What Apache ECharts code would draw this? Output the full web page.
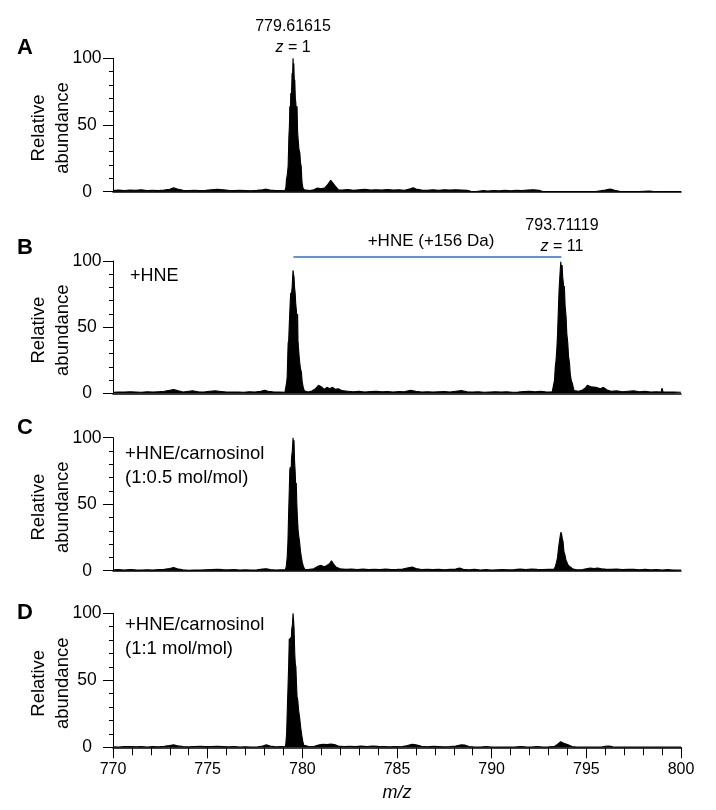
<!DOCTYPE html>
<html>
<head>
<meta charset="utf-8">
<script src="https://cdn.jsdelivr.net/npm/echarts@6/dist/echarts.min.js"></script>
<style>
html,body{margin:0;padding:0;background:#fff;}
#chart{width:716px;height:810px;}
</style>
</head>
<body>
<div id="chart"></div>
<script>
// ---------- DATA (m/z, relative abundance) ----------
const xTickLabels = [770, 775, 780, 785, 790, 795, 800];
const yTickLabels = [0, 50, 100];
const panelLetters = ['A', 'B', 'C', 'D'];
const yAxisTitle = 'Relative\nabundance';

const panelA = [
[770.0,0.8],[770.3,1.2],[770.6,0.9],[770.9,1.3],[771.2,1.0],[771.5,1.4],[771.8,0.9],[772.1,1.1],[772.4,0.8],[772.7,1.2],[773.0,1.8],[773.2,3.0],[773.4,2.0],[773.7,1.0],[774.0,0.9],[774.3,1.1],[774.6,0.8],[774.9,1.0],[775.2,1.5],[775.5,1.8],[775.8,1.4],[776.1,1.0],[776.4,0.8],[776.7,1.1],[777.0,0.9],[777.3,0.7],[777.6,1.0],[777.9,1.5],[778.1,1.9],[778.3,1.2],[778.6,0.8],[778.9,0.9],[779.07,0.6],
[779.13,3],[779.16,9],[779.2,12],[779.25,19],[779.29,41],[779.32,50],[779.34,64],[779.37,60],[779.39,74],[779.42,70],[779.46,89],[779.48,84],[779.51,100],[779.53,92],[779.55,96],[779.58,80],[779.60,84],[779.63,70],[779.66,66],[779.68,58],[779.72,64],[779.75,45],[779.78,39],[779.82,32],[779.87,29],[779.90,22],[779.94,19],[779.97,10],[779.99,6],[780.03,3],[780.1,1.5],
[780.2,1.2],[780.4,0.8],[780.6,1.5],[780.8,2.8],[781.0,2.2],[781.2,3.0],[781.35,5.5],[781.5,8.5],[781.6,7.5],[781.75,4],[781.9,1.5],[782.1,1.2],[782.4,1.6],[782.7,1.0],[783.0,1.4],[783.3,1.8],[783.6,1.2],[783.9,1.5],[784.2,1.3],[784.5,1.6],[784.8,1.2],[785.1,1.5],[785.4,1.1],[785.7,2.2],[785.86,3.0],[786.0,2.0],[786.3,1.2],[786.6,1.0],[786.9,1.5],[787.2,1.1],[787.5,1.4],[787.8,1.2],[788.1,1.5],[788.4,1.3],[788.7,1.0],[788.9,0.3],[789.2,0.2],[789.55,0.8],[789.8,0.5],[790.1,0.9],[790.4,0.6],[790.7,1.0],[791.0,0.7],[791.3,1.1],[791.6,0.9],[791.9,1.2],[792.2,1.5],[792.5,1.0],[792.7,0.2],[793.0,0.1],[793.5,0.1],[794.0,0.1],[794.5,0.1],[795.0,0.1],[795.5,0.2],[796.0,1.2],[796.26,2.0],[796.5,1.0],[796.8,0.2],[797.2,0.1],[797.8,0.1],[798.3,0.5],[798.4,1.2],[798.5,0.3],[799.0,0.1],[799.5,0.1],[800.0,0.1]
];

const panelB = [
[770.0,0.8],[770.3,1.0],[770.6,0.9],[770.9,1.2],[771.2,1.0],[771.5,0.8],[771.8,1.1],[772.1,0.9],[772.4,1.2],[772.7,1.5],[773.0,2.2],[773.2,2.8],[773.4,2.0],[773.7,1.0],[774.0,1.6],[774.2,1.9],[774.5,1.2],[774.8,1.0],[775.1,1.5],[775.4,1.8],[775.7,1.4],[776.0,1.0],[776.3,0.9],[776.6,1.0],[776.9,0.8],[777.2,1.1],[777.5,0.9],[777.8,1.6],[778.0,2.2],[778.2,1.6],[778.5,0.9],[778.8,1.0],[779.08,0.8],
[779.13,2],[779.17,8],[779.2,12.5],[779.23,28],[779.25,38],[779.28,40],[779.31,52],[779.34,53],[779.37,72],[779.39,76],[779.42,74],[779.46,80],[779.49,88],[779.51,93],[779.53,90],[779.56,88],[779.59,80],[779.62,76],[779.65,68],[779.69,62],[779.72,50],[779.75,60],[779.77,40],[779.8,34],[779.83,28],[779.87,22],[779.91,18],[779.95,16],[779.99,9],[780.04,5],[780.1,2],[780.18,1],
[780.3,1.0],[780.5,1.8],[780.7,3.5],[780.85,6],[780.92,7.5],[781.0,5],[781.15,3],[781.3,4.5],[781.45,3.5],[781.6,4.5],[781.75,3],[781.9,3.5],[782.1,2],[782.4,1.6],[782.7,1.2],[783.0,1.5],[783.3,1.0],[783.6,1.3],[783.9,1.6],[784.2,1.1],[784.5,1.4],[784.8,1.0],[785.1,1.3],[785.4,1.1],[785.7,2.2],[786.0,1.5],[786.3,1.0],[786.6,1.2],[786.9,0.9],[787.2,1.1],[787.5,1.3],[787.8,1.0],[788.1,1.6],[788.4,2.0],[788.7,1.2],[789.0,0.9],[789.3,1.1],[789.6,0.8],[789.9,1.0],[790.2,1.2],[790.5,0.9],[790.8,1.1],[791.1,0.8],[791.4,1.0],[791.7,1.3],[792.0,1.6],[792.3,1.2],[792.6,1.5],[792.9,1.0],[793.2,1.2],
[793.26,2],[793.32,10],[793.36,20],[793.40,25],[793.44,33],[793.48,45],[793.52,62],[793.56,78],[793.60,88],[793.63,95],[793.65,99.5],[793.68,94],[793.72,97],[793.75,88],[793.79,83],[793.82,75],[793.84,81],[793.88,66],[793.93,58],[793.97,45],[794.02,38],[794.06,28],[794.11,23],[794.15,15],[794.2,10],[794.27,7],[794.35,2],[794.45,1],
[794.6,1.5],[794.8,2.5],[794.95,4],[795.05,6],[795.15,7.5],[795.25,5],[795.35,6.5],[795.5,4.5],[795.6,5.5],[795.75,3.5],[795.9,4.5],[796.1,2.5],[796.3,1.5],[796.6,1.8],[796.9,1.2],[797.2,1.5],[797.5,1.8],[797.8,1.2],[798.1,1.6],[798.4,1.0],[798.7,1.2],[798.95,1.0],[799.0,4],[799.05,1.0],[799.3,0.9],[799.6,1.0],[800.0,0.8]
];

const panelC = [
[770.0,0.6],[770.3,0.8],[770.6,0.5],[770.9,0.9],[771.2,0.6],[771.5,0.4],[771.8,0.7],[772.1,0.5],[772.4,0.8],[772.7,1.0],[773.0,1.6],[773.2,2.4],[773.4,1.4],[773.7,0.6],[774.0,0.3],[774.3,0.5],[774.6,0.4],[774.9,0.7],[775.2,0.9],[775.5,1.1],[775.8,0.8],[776.1,0.6],[776.4,0.9],[776.7,0.5],[777.0,0.7],[777.3,0.4],[777.6,0.6],[777.9,1.2],[778.1,1.5],[778.3,0.8],[778.6,0.5],[778.9,0.7],[779.1,0.6],
[779.15,3],[779.2,10],[779.24,22],[779.28,45],[779.31,60],[779.34,76],[779.37,78],[779.40,70],[779.43,85],[779.47,90],[779.51,100],[779.53,94],[779.56,98],[779.59,82],[779.62,75],[779.65,64],[779.68,66],[779.71,50],[779.74,40],[779.78,30],[779.82,25],[779.86,21],[779.90,15],[779.95,10],[780.0,6],[780.06,3],[780.13,1],
[780.3,0.8],[780.6,1.5],[780.85,3.5],[781.0,4],[781.15,3],[781.3,4],[781.45,5.5],[781.54,7.5],[781.65,5],[781.8,2.5],[782.0,1.5],[782.3,1.0],[782.6,1.3],[782.9,0.9],[783.2,1.2],[783.5,0.8],[783.8,1.1],[784.1,0.9],[784.4,1.2],[784.7,0.8],[785.0,1.0],[785.3,1.3],[785.6,2.2],[785.8,2.8],[786.0,1.6],[786.3,0.9],[786.6,1.1],[786.9,0.8],[787.2,1.0],[787.5,0.7],[787.8,1.0],[788.1,1.3],[788.3,2.0],[788.5,1.0],[788.8,0.6],[789.1,1.0],[789.4,0.5],[789.7,0.8],[790.0,0.4],[790.3,0.7],[790.6,0.9],[790.9,0.6],[791.2,0.8],[791.5,1.2],[791.8,0.9],[792.1,1.3],[792.4,1.0],[792.7,0.8],[793.0,1.0],[793.3,1.2],
[793.36,3],[793.42,6],[793.48,10],[793.53,17],[793.58,22],[793.62,26],[793.66,29],[793.70,27],[793.73,24],[793.77,22],[793.82,14],[793.87,12],[793.92,8],[793.98,7],[794.05,4],[794.15,3],[794.3,1.2],
[794.5,0.6],[794.8,0.9],[795.0,1.5],[795.2,2.0],[795.4,1.6],[795.6,2.0],[795.8,1.5],[796.0,1.2],[796.3,1.0],[796.6,1.3],[796.9,0.8],[797.2,1.1],[797.5,1.0],[797.8,0.7],[798.1,1.0],[798.4,0.6],[798.7,0.9],[799.0,0.5],[799.3,0.8],[799.6,0.4],[800.0,0.5]
];

const panelD = [
[770.0,0.3],[770.3,0.2],[770.6,0.5],[770.9,0.6],[771.2,0.4],[771.5,0.6],[771.8,0.2],[772.1,0.5],[772.4,0.3],[772.7,0.8],[773.0,1.4],[773.2,1.8],[773.4,1.2],[773.7,0.5],[774.0,0.3],[774.3,0.6],[774.6,0.8],[774.9,0.5],[775.2,0.6],[775.5,0.7],[775.8,0.5],[776.1,0.3],[776.4,0.6],[776.7,0.2],[777.0,0.4],[777.3,0.1],[777.6,0.2],[777.9,1.0],[778.1,1.8],[778.3,1.0],[778.6,0.3],[778.9,0.5],[779.1,0.4],
[779.13,3],[779.17,10],[779.21,30],[779.25,48],[779.28,62],[779.31,81],[779.34,78],[779.37,82],[779.40,75],[779.44,88],[779.48,92],[779.51,100],[779.53,96],[779.56,90],[779.60,70],[779.63,62],[779.66,60],[779.69,48],[779.72,38],[779.76,35],[779.80,28],[779.86,22],[779.92,14],[779.98,8],[780.03,4],[780.08,1.5],[780.15,0.5],
[780.3,0.8],[780.6,0.6],[780.9,1.8],[781.1,2.2],[781.3,2.0],[781.5,2.4],[781.7,2.0],[781.9,1.0],[782.2,0.6],[782.5,0.8],[782.8,0.5],[783.1,0.9],[783.4,0.6],[783.7,1.0],[784.0,0.7],[784.3,0.5],[784.6,0.3],[784.9,0.6],[785.2,0.4],[785.5,1.2],[785.8,2.2],[786.0,1.8],[786.3,0.8],[786.6,0.4],[786.9,0.7],[787.2,0.5],[787.5,0.3],[787.8,0.6],[788.1,1.0],[788.4,1.8],[788.6,1.6],[788.8,0.6],[789.1,0.2],[789.4,0.1],[789.7,0.6],[790.0,0.2],[790.3,0.1],[790.6,0.2],[790.9,0.1],[791.2,0.2],[791.5,0.5],[791.8,0.3],[792.1,0.2],[792.4,0.6],[792.7,0.2],[793.0,0.3],[793.3,0.5],
[793.4,1.5],[793.5,2.5],[793.58,3.5],[793.65,4.2],[793.72,3.8],[793.8,3.0],[793.9,3.2],[794.0,2.0],[794.1,1.5],[794.25,0.5],
[794.5,0.1],[795.0,0.1],[795.5,0.1],[795.8,0.2],[796.0,0.8],[796.2,0.9],[796.4,0.3],[796.7,0.1],[797.0,0.1],[797.5,0.1],[798.0,0.1],[798.5,0.1],[799.0,0.1],[799.5,0.1],[800.0,0.1]
];

const hneShift = { from: 779.53, to: 793.68, level: 103.3, label: '+HNE (+156 Da)' };
const peakLabelA = { mz: '779.61615', z: '1' };
const peakLabelB = { mz: '793.71119', z: '11' };

// ---------- LAYOUT ----------
const FONT = '"Liberation Sans", Arial, Helvetica, sans-serif';
const panels = [panelA, panelB, panelC, panelD];
const grids = [
  { left: 113, right: 35, top: 58.3, height: 133.4 },
  { left: 113, right: 35, top: 261, height: 132.3 },
  { left: 113, right: 35, top: 437.7, height: 133 },
  { left: 113, right: 35, top: 613.3, height: 134 }
];

const xAxes = grids.map((g, i) => {
  const last = i === 3;
  return {
    type: 'value', gridIndex: i, min: 770, max: 800, interval: 5,
    axisLine: { show: true, onZero: false, lineStyle: { color: '#000', width: 1.5 } },
    axisTick: { show: last, length: 11, lineStyle: { color: '#000', width: 1 } },
    minorTick: { show: last, splitNumber: 5, length: 8, lineStyle: { color: '#000', width: 1 } },
    axisLabel: {
      show: last, margin: 14, fontSize: 16, color: '#000', fontFamily: FONT,
      formatter: v => (xTickLabels.indexOf(v) >= 0 ? String(v) : '')
    },
    splitLine: { show: false },
    name: last ? 'm/z' : '', nameLocation: 'middle', nameGap: 37,
    nameTextStyle: { fontSize: 18, fontStyle: 'italic', color: '#000', fontFamily: FONT }
  };
});

const yAxes = grids.map((g, i) => ({
  type: 'value', gridIndex: i, min: 0, max: 100, interval: 50,
  axisLine: { show: true, lineStyle: { color: '#000', width: 1 } },
  axisTick: { show: true, length: 10, lineStyle: { color: '#000', width: 1 } },
  minorTick: { show: true, splitNumber: 5, length: 4, lineStyle: { color: '#000', width: 1 } },
  axisLabel: {
    margin: 26, align: 'center', fontSize: 17.5, color: '#000', fontFamily: FONT,
    formatter: v => (yTickLabels.indexOf(v) >= 0 ? String(v) : '')
  },
  splitLine: { show: false }
}));

const series = panels.map((d, i) => ({
  type: 'line', xAxisIndex: i, yAxisIndex: i, data: d,
  symbol: 'none', silent: true, animation: false,
  lineStyle: { color: '#000', width: 1.1 },
  areaStyle: { color: '#000', opacity: 1 },
  z: 1
}));

function txt(x, y, text, opts) {
  return {
    type: 'text', x: x, y: y, silent: true,
    style: Object.assign({ text: text, fill: '#000', font: '16px ' + FONT, textAlign: 'center', textVerticalAlign: 'middle' }, opts || {})
  };
}

const letterY = [48, 248, 428, 613];
const staticGraphics = [];
panelLetters.forEach((L, i) => staticGraphics.push(txt(25, letterY[i], L, { font: 'bold 22px ' + FONT })));
staticGraphics.push(txt(293, 27, peakLabelA.mz, { font: '16px ' + FONT }));
staticGraphics.push(txt(293, 47.5, '{i|z} = ' + peakLabelA.z, { font: '16px ' + FONT, rich: { i: { fontStyle: 'italic', fontSize: 16, fontFamily: FONT } } }));
staticGraphics.push(txt(562, 226, peakLabelB.mz, { font: '16px ' + FONT }));
staticGraphics.push(txt(562, 246.5, '{i|z} = ' + peakLabelB.z, { font: '16px ' + FONT, rich: { i: { fontStyle: 'italic', fontSize: 16, fontFamily: FONT } } }));
staticGraphics.push(txt(431, 241, hneShift.label, { font: '17px ' + FONT }));
staticGraphics.push(txt(130, 276, '+HNE', { font: '18px ' + FONT, textAlign: 'left' }));
staticGraphics.push(txt(125, 454, '+HNE/carnosinol', { font: '18.5px ' + FONT, textAlign: 'left' }));
staticGraphics.push(txt(125, 478, '(1:0.5 mol/mol)', { font: '18.5px ' + FONT, textAlign: 'left' }));
staticGraphics.push(txt(125, 625, '+HNE/carnosinol', { font: '18.5px ' + FONT, textAlign: 'left' }));
staticGraphics.push(txt(125, 648.5, '(1:1 mol/mol)', { font: '18.5px ' + FONT, textAlign: 'left' }));

const chart = echarts.init(document.getElementById('chart'), null, { renderer: 'canvas' });
chart.setOption({
  animation: false,
  backgroundColor: '#fff',
  grid: grids,
  xAxis: xAxes,
  yAxis: yAxes,
  series: series,
  graphic: staticGraphics
});

const extra = [];
// rotated y-axis titles, centred on each panel through its own scale
grids.forEach((g, i) => {
  const mid = chart.convertToPixel({ gridIndex: i }, [770, 50]);
  extra.push({
    type: 'text', silent: true, x: 51, y: mid[1] + 3, rotation: Math.PI / 2,
    style: { text: yAxisTitle, fill: '#000', font: '18.5px ' + FONT, lineHeight: 24, textAlign: 'center', textVerticalAlign: 'middle' }
  });
});
// blue bracket line for the +156 Da shift, positioned through panel B's scales
const p1 = chart.convertToPixel({ gridIndex: 1 }, [hneShift.from, hneShift.level]);
const p2 = chart.convertToPixel({ gridIndex: 1 }, [hneShift.to, hneShift.level]);
extra.push({
  type: 'line', silent: true,
  shape: { x1: p1[0], y1: Math.round(p1[1]), x2: p2[0], y2: Math.round(p1[1]) },
  style: { stroke: '#2f6fc9', lineWidth: 1.6 }
});
chart.setOption({ graphic: staticGraphics.concat(extra) });
</script>
</body>
</html>
